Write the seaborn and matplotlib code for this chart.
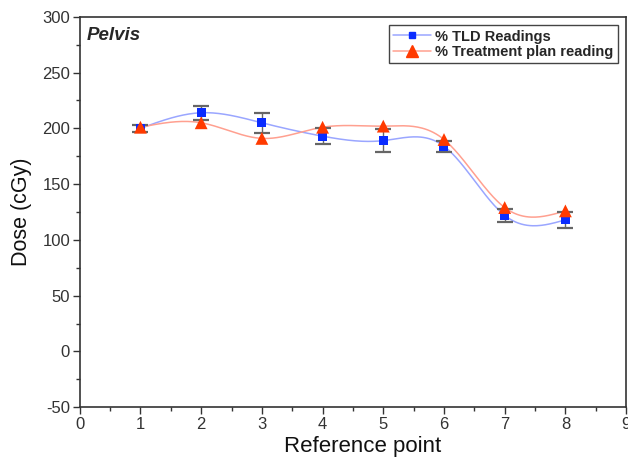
import numpy as np
import pandas as pd
import matplotlib
matplotlib.use("Agg")
import matplotlib.pyplot as plt
import seaborn as sns
from matplotlib.ticker import MultipleLocator
from matplotlib.lines import Line2D

ref_points = [1, 2, 3, 4, 5, 6, 7, 8]
tld = [200, 214, 205, 193, 189, 184, 122, 118]
tld_err = [3, 6.5, 9, 7, 10, 5, 6, 7]
plan = [201, 205, 191, 201, 202, 190, 129, 126]

sns.set_theme(style="ticks")
plt.rcParams['font.family'] = ['Liberation Sans', 'DejaVu Sans']
plt.rcParams['axes.unicode_minus'] = False

fig = plt.figure(figsize=(6.28, 4.68), dpi=100)
ax = fig.add_axes([0.127, 0.130, 0.870, 0.834])


def natural_spline(x, y, n=300):
    x = np.asarray(x, float); y = np.asarray(y, float)
    k = len(x); h = np.diff(x)
    A = np.zeros((k, k)); b = np.zeros(k)
    A[0, 0] = A[-1, -1] = 1
    for i in range(1, k - 1):
        A[i, i - 1] = h[i - 1]; A[i, i] = 2 * (h[i - 1] + h[i]); A[i, i + 1] = h[i]
        b[i] = 3 * ((y[i + 1] - y[i]) / h[i] - (y[i] - y[i - 1]) / h[i - 1])
    c = np.linalg.solve(A, b)
    xs = np.linspace(x[0], x[-1], n)
    idx = np.clip(np.searchsorted(x, xs) - 1, 0, k - 2)
    dx = xs - x[idx]
    bb = (y[idx + 1] - y[idx]) / h[idx] - h[idx] * (2 * c[idx] + c[idx + 1]) / 3
    d = (c[idx + 1] - c[idx]) / (3 * h[idx])
    return xs, y[idx] + bb * dx + c[idx] * dx ** 2 + d * dx ** 3


blue_line = "#9aa6ff"
red_line = "#ffa090"
blue = "#0a2cff"
red = "#ff3a00"

xs, ys = natural_spline(ref_points, tld)
ax.plot(xs, ys, color=blue_line, lw=1.1, zorder=2)
xs, ys = natural_spline(ref_points, plan)
ax.plot(xs, ys, color=red_line, lw=1.1, zorder=2)

ax.errorbar(ref_points, tld, yerr=tld_err, fmt="none", ecolor="#666666",
            elinewidth=1.0, capsize=5.5, capthick=1.6, zorder=3)

df_tld = pd.DataFrame({"x": ref_points, "y": tld})
df_plan = pd.DataFrame({"x": ref_points, "y": plan})
sns.scatterplot(data=df_tld, x="x", y="y", marker="s", color=blue, s=42,
                edgecolor="none", linewidth=0, ax=ax, zorder=4)
sns.scatterplot(data=df_plan, x="x", y="y", marker="^", color=red, s=85,
                edgecolor="none", linewidth=0, ax=ax, zorder=5)

handles = [Line2D([], [], color=blue_line, marker="s", markerfacecolor=blue,
                  markeredgecolor=blue, markersize=5, lw=1.1),
           Line2D([], [], color=red_line, marker="^", markerfacecolor=red,
                  markeredgecolor=red, markersize=8, lw=1.1)]
leg = ax.legend(handles, ["% TLD Readings", "% Treatment plan reading"],
                loc="upper right", bbox_to_anchor=(0.993, 0.99), frameon=True,
                fancybox=False, edgecolor="#444444", framealpha=1,
                prop={"weight": "bold", "size": 10.5}, handlelength=2.6,
                borderpad=0.3, labelspacing=0.1, handletextpad=0.3,
                borderaxespad=0.3)
leg.get_frame().set_linewidth(1.0)

ax.text(0.012, 0.975, "Pelvis", transform=ax.transAxes, ha="left", va="top",
        fontsize=13.5, fontweight="bold", fontstyle="italic")

ax.set_xlim(0, 9)
ax.set_ylim(-50, 300)
ax.xaxis.set_major_locator(MultipleLocator(1))
ax.xaxis.set_minor_locator(MultipleLocator(0.5))
ax.yaxis.set_major_locator(MultipleLocator(50))
ax.yaxis.set_minor_locator(MultipleLocator(25))
ax.tick_params(axis="both", which="major", direction="out", length=5, width=1.0,
               labelsize=12, colors="#333333", labelcolor="#333333", pad=2)
ax.tick_params(axis="both", which="minor", direction="out", length=3, width=1.0,
               colors="#333333")
ax.tick_params(top=False, right=False, which="both")
for sp in ax.spines.values():
    sp.set_visible(True)
    sp.set_linewidth(1.2)
    sp.set_color("#333333")

ax.set_xlabel("Reference point", fontsize=16, labelpad=8, color="#111111")
ax.xaxis.set_label_coords(0.517, -0.075)
ax.set_ylabel("Dose (cGy)", fontsize=15.5, labelpad=7, color="#111111")

fig.savefig("out.png", dpi=100, facecolor="white")
